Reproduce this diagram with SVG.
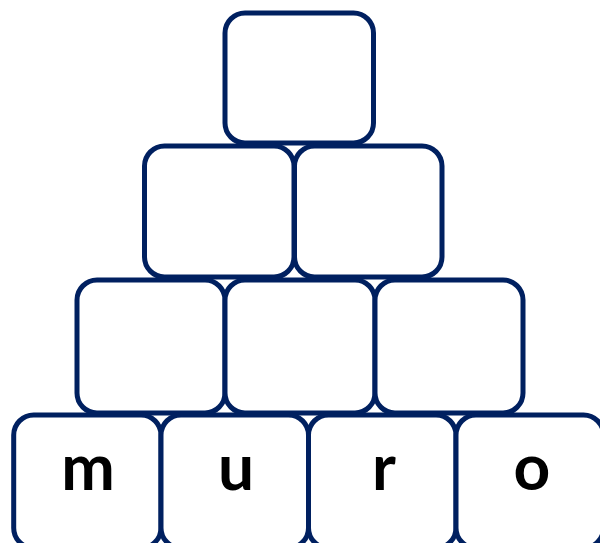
<svg xmlns="http://www.w3.org/2000/svg" width="600" height="543" viewBox="0 0 600 543">
<style>
.b{fill:#ffffff;stroke:#002060;stroke-width:5}
.t{font-family:Lato,"Open Sans","Liberation Sans",sans-serif;font-weight:bold;font-size:64px;fill:#000;text-anchor:middle}
</style>
<rect width="600" height="543" fill="#ffffff"/>
<g id="r1c1"><rect class="b" x="225" y="13" width="148.5" height="130" rx="20"/></g>
<g id="r2c1"><rect class="b" x="144.5" y="146" width="149.5" height="131" rx="20"/></g>
<g id="r2c2"><rect class="b" x="294.5" y="146" width="147.5" height="131" rx="20"/></g>
<g id="r3c1"><rect class="b" x="77" y="280" width="148" height="133" rx="20"/></g>
<g id="r3c2"><rect class="b" x="225" y="280" width="150" height="133" rx="20"/></g>
<g id="r3c3"><rect class="b" x="375" y="280" width="148" height="133" rx="20"/></g>
<g id="r4c1"><rect class="b" x="13.7" y="415" width="147.3" height="133" rx="20"/><text class="t" x="88" y="490">m</text></g>
<g id="r4c2"><rect class="b" x="161" y="415" width="147.5" height="133" rx="20"/><text class="t" x="236" y="490">u</text></g>
<g id="r4c3"><rect class="b" x="308.5" y="415" width="147.5" height="133" rx="20"/><text class="t" x="384" y="490">r</text></g>
<g id="r4c4"><rect class="b" x="456" y="415" width="147.5" height="133" rx="20"/><text class="t" x="532" y="490">o</text></g>
<g id="connectors"></g>
</svg>
